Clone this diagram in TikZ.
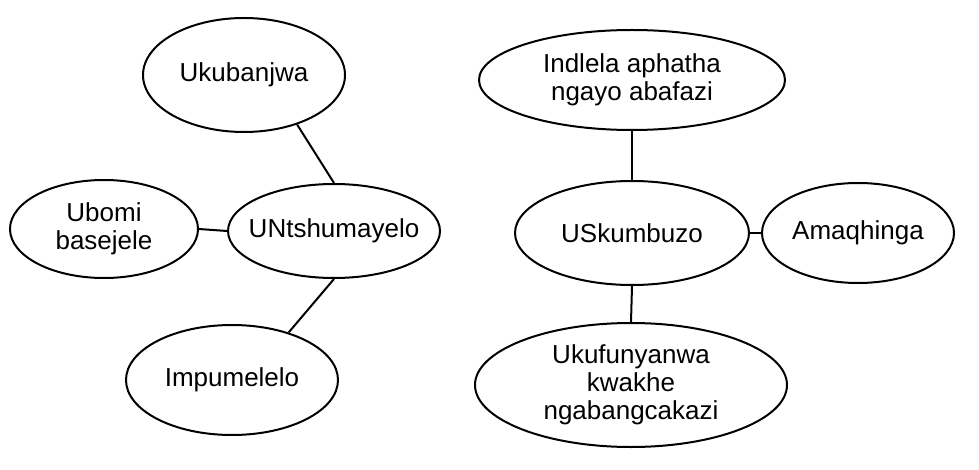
\documentclass[tikz,border=0pt]{standalone}
\usepackage{fontspec}
\setmainfont{Liberation Sans}
\usetikzlibrary{shapes.geometric}
\tikzset{
  bub/.style={ellipse, draw=black, line width=2pt, inner sep=0pt, align=center,
    font=\fontsize{26}{28}\selectfont},
  link/.style={draw=black, line width=2pt}
}
\begin{document}
\begin{tikzpicture}[x=1pt,y=-1pt]
\useasboundingbox (0,0) rectangle (979,470);
\node[bub, minimum width=202pt, minimum height=114pt] (ukub) at (244,75) {Ukubanjwa};
\node[bub, minimum width=188pt, minimum height=98pt] (ubomi) at (104,229) {Ubomi\\basejele};
\node[bub, minimum width=212pt, minimum height=94pt, inner xsep=-12pt] (unts) at (334,231) {UNtshumayelo};
\node[bub, minimum width=212pt, minimum height=110pt] (impu) at (232,380) {Impumelelo};
\node[bub, minimum width=306pt, minimum height=100pt] (indl) at (632,80) {Indlela aphatha\\ngayo abafazi};
\node[bub, minimum width=234pt, minimum height=104pt] (uskum) at (632,233) {USkumbuzo};
\node[bub, minimum width=192pt, minimum height=100pt] (amaq) at (858,233) {Amaqhinga};
\node[bub, minimum width=312pt, minimum height=124pt] (ukuf) at (631,385) {Ukufunyanwa\\kwakhe\\ngabangcakazi};
\draw[link] (ukub.-43) -- (unts.90);
\draw[link] (ubomi.east) -- (unts.west);
\draw[link] (unts.-90) -- (impu.40);
\draw[link] (indl.south) -- (uskum.north);
\draw[link] (uskum.east) -- (amaq.west);
\draw[link] (uskum.south) -- (ukuf.north);
\end{tikzpicture}
\end{document}
